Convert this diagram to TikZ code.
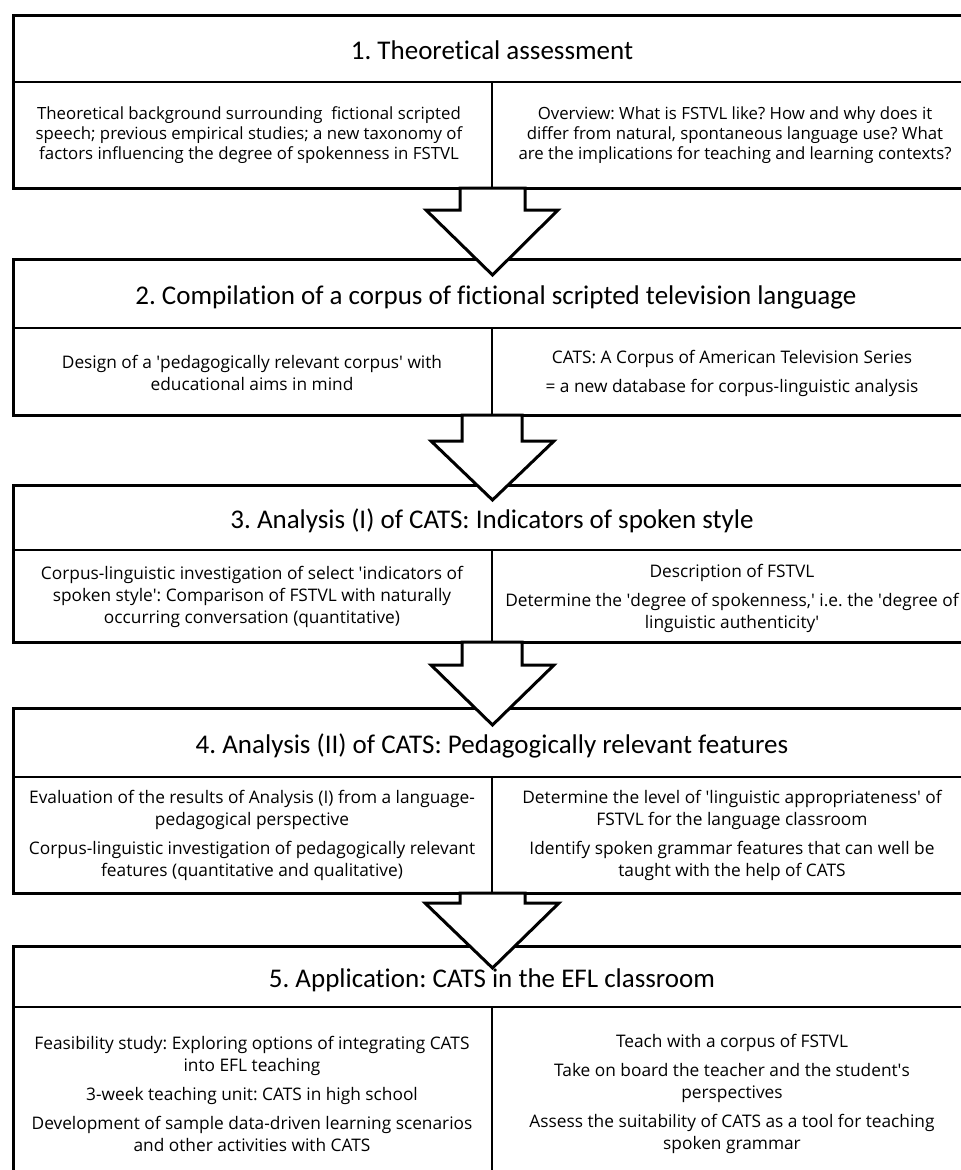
\documentclass[tikz,border=0pt]{standalone}
\usepackage{fontspec}
\setmainfont[Ligatures=NoCommon]{Carlito}
\newfontfamily\bodyfont{Open Sans}
\newcommand\myq{\textquotesingle}
\frenchspacing
\begin{document}
\frenchspacing
\begin{tikzpicture}[x=1pt,y=-1pt,
  every node/.append style={execute at begin node=\frenchspacing},
  frame/.style={draw=black,line width=3pt},
  sep/.style={draw=black,line width=2.6pt},
  ttl/.style={font=\fontsize{27}{32}\selectfont,inner sep=0pt,anchor=base},
  bdy/.style={font=\bodyfont\fontsize{17.3}{22}\selectfont,align=center,inner sep=0pt},
  bdyA/.style={font=\bodyfont\fontsize{16.8}{20}\selectfont,align=center,inner sep=0pt},
  blockarrow/.style={draw=black,fill=white,line width=3pt,line join=miter}]
\useasboundingbox (0,0) rectangle (961,1170);
\clip (0,0) rectangle (961,1170);
\fill[white] (0,0) rectangle (961,1170);

% ---------- Box 1 ----------
\draw[frame] (13,15) rectangle (971,188);
\draw[sep] (13,82) -- (971,82);
\draw[sep] (492,82) -- (492,188);
\node[ttl] (t1) at (492,59) {1. Theoretical assessment};
\node[bdyA] (l1) at (249,135) {Theoretical background surrounding~ fictional scripted\\speech; previous empirical studies; a new taxonomy of\\factors influencing the degree of spokenness in FSTVL};
\node[bdyA] (r1) at (735,135) {Overview: What is FSTVL like? How and why does it\\differ from natural, spontaneous language use? What\\are the implications for teaching and learning contexts?};

% ---------- Box 2 ----------
\draw[frame] (13,259) rectangle (971,415);
\draw[sep] (13,328) -- (971,328);
\draw[sep] (492,328) -- (492,415);
\node[ttl] (t2) at (496,304) {2. Compilation of a corpus of fictional scripted television language};
\node[bdy] (l2) at (252,373) {Design of a \myq pedagogically relevant corpus\myq{} with\\educational aims in mind};
\node[bdy] (r2) at (732,373) {CATS: A Corpus of American Television Series\\[7pt]= a new database for corpus-linguistic analysis};

% ---------- Box 3 ----------
\draw[frame] (13,485) rectangle (971,642);
\draw[sep] (13,550) -- (971,550);
\draw[sep] (492,550) -- (492,642);
\node[ttl] (t3) at (492,528) {3. Analysis (I) of CATS: Indicators of spoken style};
\node[bdy] (l3) at (252,597) {Corpus-linguistic investigation of select \myq indicators of\\spoken style\myq: Comparison of FSTVL with naturally\\occurring conversation (quantitative)};
\node[bdy] (r3) at (732,598) {Description of FSTVL\\[7pt]Determine the \myq degree of spokenness,\myq{} i.e. the \myq degree of\\linguistic authenticity\myq};

% ---------- Box 4 ----------
\draw[frame] (13,708) rectangle (971,893);
\draw[sep] (13,777) -- (971,777);
\draw[sep] (492,777) -- (492,893);
\node[ttl] (t4) at (492,753) {4. Analysis (II) of CATS: Pedagogically relevant features};
\node[bdy] (l4) at (252,835) {Evaluation of the results of Analysis (I) from a language-\\pedagogical perspective\\[7pt]Corpus-linguistic investigation of pedagogically relevant\\features (quantitative and qualitative)};
\node[bdy] (r4) at (732,835) {Determine the level of \myq linguistic appropriateness\myq{} of\\FSTVL for the language classroom\\[7pt]Identify spoken grammar features that can well be\\taught with the help of CATS};

% ---------- Box 5 ----------
\draw[frame] (13,946) rectangle (971,1181);
\draw[sep] (13,1007) -- (971,1007);
\draw[sep] (492,1007) -- (492,1181);
\node[ttl] (t5) at (492,987) {5. Application: CATS in the EFL classroom};
\node[bdy] (l5) at (252,1094) {Feasibility study: Exploring options of integrating CATS\\into EFL teaching\\[7pt]3-week teaching unit: CATS in high school\\[7pt]Development of sample data-driven learning scenarios\\and other activities with CATS};
\node[bdy] (r5) at (732,1094) {Teach with a corpus of FSTVL\\[7pt]Take on board the teacher and the student\myq s\\perspectives\\[7pt]Assess the suitability of CATS as a tool for teaching\\spoken grammar};

% ---------- Block arrows ----------
\draw[blockarrow] (460,188) -- (460,210) -- (426,210) -- (492.5,275) -- (558,210) -- (525,210) -- (525,188) -- cycle;
\draw[blockarrow] (462,415) -- (462,441) -- (431,441) -- (492.5,500) -- (554,441) -- (522,441) -- (522,415) -- cycle;
\draw[blockarrow] (462,642) -- (462,665) -- (431,665) -- (492.5,725) -- (554,665) -- (522,665) -- (522,642) -- cycle;
\draw[blockarrow] (460,893) -- (460,903) -- (425,903) -- (492.5,968) -- (559,903) -- (525,903) -- (525,893) -- cycle;
\end{tikzpicture}
\end{document}
